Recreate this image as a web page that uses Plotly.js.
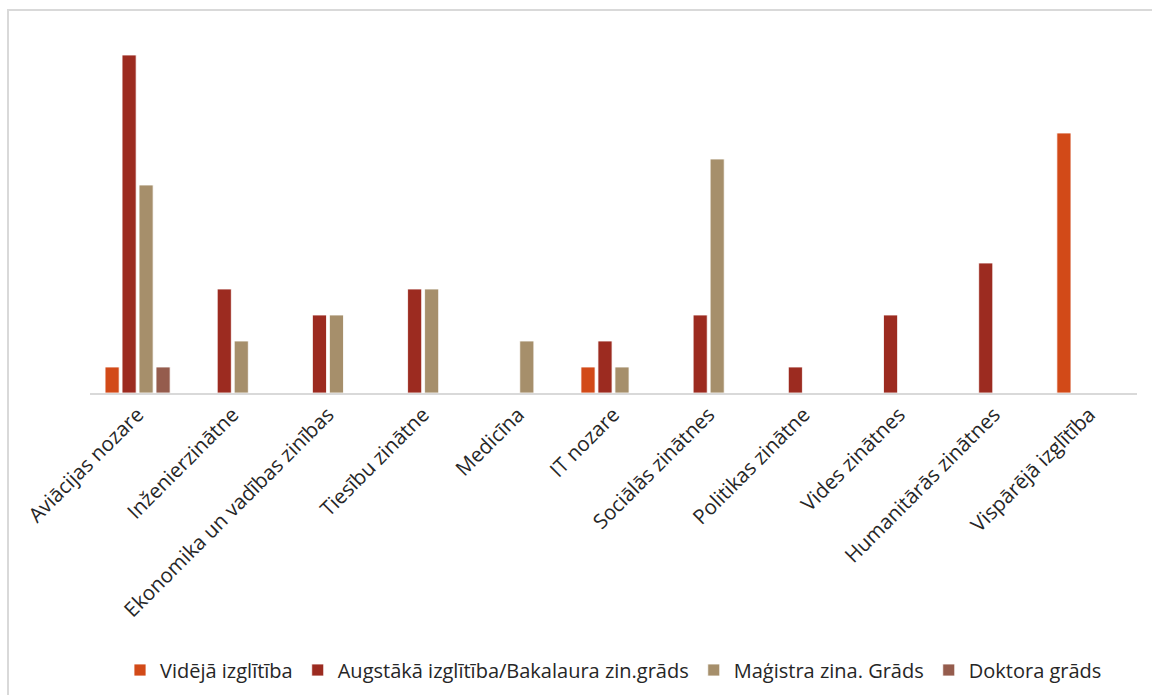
<!DOCTYPE html>
<html><head><meta charset="utf-8">
<script src="https://cdn.plot.ly/plotly-3.0.1.min.js"></script>
<style>html,body{margin:0;padding:0;background:#fff}#c{width:1152px;height:695px}</style>
</head><body><div id="c"></div>
<script>
const categories = ["Aviācijas nozare","Inženierzinātne","Ekonomika un vadības zinības","Tiesību zinātne","Medicīna","IT nozare","Sociālās zinātnes","Politikas zinātne","Vides zinātnes","Humanitārās zinātnes","Vispārējā izglītība"];
const seriesNames = ["Vidējā izglītība","Augstākā izglītība/Bakalaura zin.grāds","Maģistra zina. Grāds","Doktora grāds"];
const videja    = [1,0,0,0,0,1,0,0,0,0,10];
const augstaka  = [13,4,3,4,0,2,3,1,3,5,0];
const magistra  = [8,2,3,4,2,1,9,0,0,0,0];
const doktora   = [1,0,0,0,0,0,0,0,0,0,0];
const colors = ["#d24a18","#9c2b20","#a68f6b","#955c4d"];
const values = [videja, augstaka, magistra, doktora];
const font = "Open Sans, Liberation Sans, sans-serif";
const traces = values.map((v,i)=>({
  type:"bar", x:categories, y:v.map(d=>d===0?null:d), name:seriesNames[i],
  marker:{color:colors[i], line:{color:"#ffffff", width:0.8}},
  hoverinfo:"skip"
}));
const L=90, R=15, T=29, B=302, W=1152, H=695;
const pw=W-L-R, ph=H-T-B;
const layout = {
  width:W, height:H,
  margin:{l:L, r:R, t:T, b:B, autoexpand:false},
  paper_bgcolor:"#fff", plot_bgcolor:"#fff",
  barmode:"group", bargap:0.286, bargroupgap:0.17,
  font:{family:font, size:16, color:"#262626"},
  xaxis:{tickangle:-45, showline:true, linecolor:"#d9d9d9", linewidth:1.5, ticks:"", showgrid:false,
         tickfont:{family:font, size:20.5, color:"#262626"}, automargin:false},
  yaxis:{range:[0,14], visible:false, showgrid:false, zeroline:false},
  showlegend:true,
  legend:{orientation:"h", x:0.5, xanchor:"center", yref:"container", y:(H-670)/H, yanchor:"middle",
          font:{family:font, size:20, color:"#262626"}, itemwidth:30, traceorder:"normal"},
  shapes:[{type:"rect", xref:"paper", yref:"paper", x0:(8-L)/pw, x1:(W+20-L)/pw, y0:-(B+20)/ph, y1:(H-B-10)/ph,
           line:{color:"#d9d9d9", width:2}, fillcolor:"rgba(0,0,0,0)"}]
};
Plotly.newPlot("c", traces, layout, {displayModeBar:false, staticPlot:true});
</script></body></html>
